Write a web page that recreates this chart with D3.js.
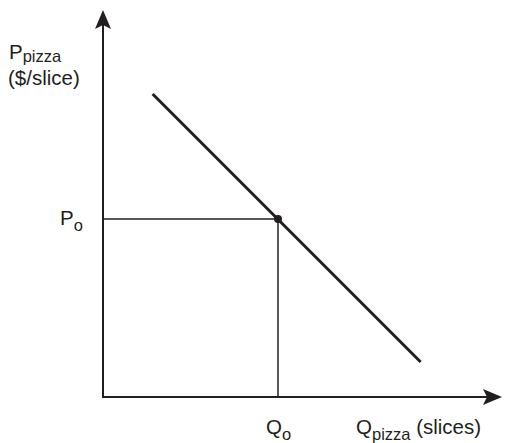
<!DOCTYPE html>
<html>
<head>
<meta charset="utf-8">
<script src="https://cdn.jsdelivr.net/npm/d3@7"></script>
<style>
  html, body { margin: 0; padding: 0; background: #fff; }
  text { font-family: "Liberation Sans", Arial, sans-serif; fill: #231f20; }
</style>
</head>
<body>
<div id="chart"></div>
<script>
// Axis extents (quantity, price) in chart units
const axisQ = [0, 99.75];
const axisP = [0, 96.75];

// Demand line end points
const demandQ = [12.4, 79.4];
const demandP = [75.75, 8.75];

// Equilibrium point (Qo, Po)
const equilibrium = [43.75, 44.5];

// Axis titles: [main, subscript, rest]
const yTitle = ['P', 'pizza', '($/slice)'];
const xTitle = ['Q', 'pizza', ' (slices)'];
const eqLabels = [['P', 'o'], ['Q', 'o']];

const width = 505, height = 443;
const ink = '#231f20';

const svg = d3.select('#chart').append('svg')
  .attr('width', width)
  .attr('height', height);

const x = d3.scaleLinear().domain([0, 100]).range([103, 503]);
const y = d3.scaleLinear().domain([0, 100]).range([397, -3]);

// Guide lines from the equilibrium point to both axes
svg.append('line')
  .attr('x1', x(0)).attr('y1', y(equilibrium[1]))
  .attr('x2', x(equilibrium[0])).attr('y2', y(equilibrium[1]))
  .attr('stroke', ink).attr('stroke-width', 1.5);
svg.append('line')
  .attr('x1', x(equilibrium[0])).attr('y1', y(equilibrium[1]))
  .attr('x2', x(equilibrium[0])).attr('y2', y(0))
  .attr('stroke', ink).attr('stroke-width', 1.5);

// Axes
svg.append('line')
  .attr('x1', x(0)).attr('y1', y(0) + 1)
  .attr('x2', x(0)).attr('y2', y(axisP[1]) + 12)
  .attr('stroke', ink).attr('stroke-width', 2);
svg.append('line')
  .attr('x1', x(0) - 1).attr('y1', y(0))
  .attr('x2', x(axisQ[1]) - 12).attr('y2', y(0))
  .attr('stroke', ink).attr('stroke-width', 2);

// Arrow heads
const tipY = [x(0), y(axisP[1])];
svg.append('path')
  .attr('d', `M${tipY[0]},${tipY[1]} L${tipY[0] + 8},${tipY[1] + 19} L${tipY[0]},${tipY[1] + 15} L${tipY[0] - 8},${tipY[1] + 19} Z`)
  .attr('fill', ink);
const tipX = [x(axisQ[1]), y(0)];
svg.append('path')
  .attr('d', `M${tipX[0]},${tipX[1]} L${tipX[0] - 19},${tipX[1] - 8} L${tipX[0] - 15},${tipX[1]} L${tipX[0] - 19},${tipX[1] + 8} Z`)
  .attr('fill', ink);

// Demand curve
svg.append('line')
  .attr('x1', x(demandQ[0])).attr('y1', y(demandP[0]))
  .attr('x2', x(demandQ[1])).attr('y2', y(demandP[1]))
  .attr('stroke', ink).attr('stroke-width', 3);

// Equilibrium dot
svg.append('circle')
  .attr('cx', x(equilibrium[0])).attr('cy', y(equilibrium[1]))
  .attr('r', 4).attr('fill', ink);

// Labels
function subLabel(px, py, parts, shift, rest) {
  const t = svg.append('text').attr('x', px).attr('y', py).attr('font-size', 20.5);
  t.append('tspan').text(parts[0]);
  t.append('tspan').attr('font-size', 16.5).attr('dy', shift).text(parts[1]);
  if (rest) t.append('tspan').attr('dy', -shift).text(rest);
  return t;
}

// Y axis title
subLabel(9, 59, yTitle, 3);
svg.append('text').attr('x', 8).attr('y', 85).attr('font-size', 20.5).text(yTitle[2]);

// X axis title
subLabel(356, 434, xTitle, 6, xTitle[2]);

// Po and Qo
subLabel(60, y(equilibrium[1]) + 6, eqLabels[0], 6);
subLabel(266, 434, eqLabels[1], 6);
</script>
</body>
</html>
